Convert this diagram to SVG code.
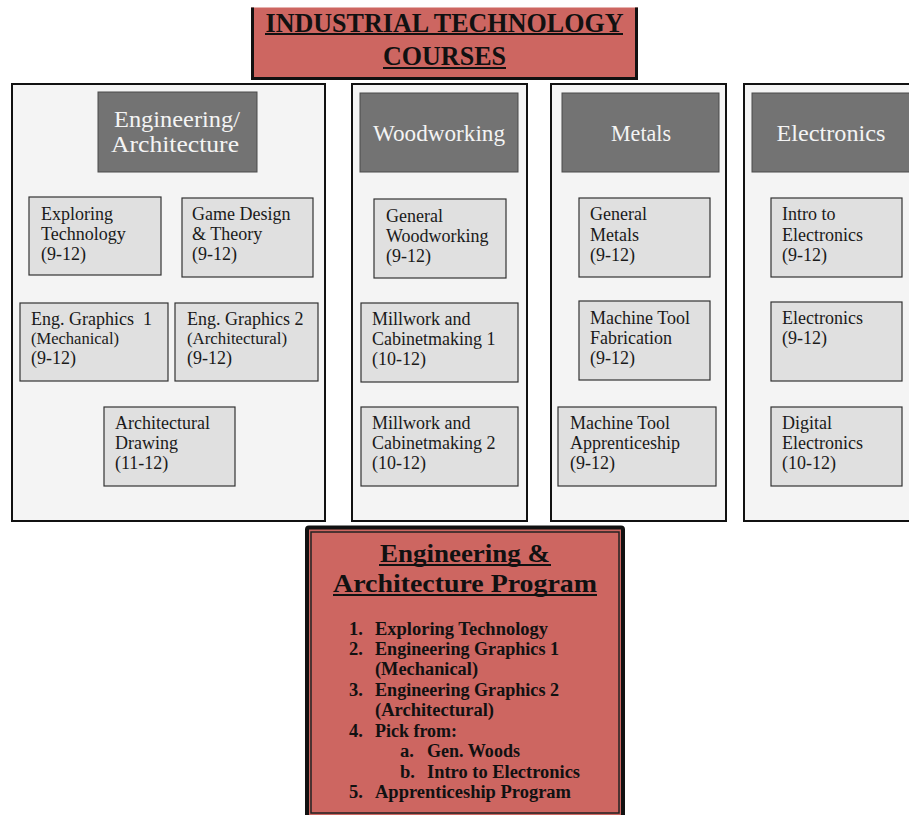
<svg xmlns="http://www.w3.org/2000/svg" width="909" height="815" viewBox="0 0 909 815">
<style>
.col{fill:#f4f4f4;stroke:#111;stroke-width:2}
.hdr{fill:#737373;stroke:#4a4a4a;stroke-width:1}
.crs{fill:#e0e0e0;stroke:#333;stroke-width:1.2}
.ht{font-family:"Liberation Serif",serif;font-size:23px;fill:#f4f4f4;text-anchor:middle}
.ct{font-family:"Liberation Serif",serif;font-size:18px;fill:#1a1a1a}
.cs{font-family:"Liberation Serif",serif;font-size:16px;fill:#1a1a1a}
.red{fill:#cd6661}
.tt{font-family:"Liberation Serif",serif;font-weight:bold;font-size:28px;fill:#111;text-anchor:middle}
.pt{font-family:"Liberation Serif",serif;font-weight:bold;font-size:25px;fill:#111;text-anchor:middle}
.li{font-family:"Liberation Serif",serif;font-weight:bold;font-size:18.5px;fill:#111}
.ul{stroke:#111;stroke-width:1.8}
</style>
<rect width="909" height="815" fill="#fff"/>

<g id="title">
  <rect class="red" x="251" y="7.5" width="387" height="72"/>
  <path d="M252.5 7.5 V78.5 H636.5 V7.5" fill="none" stroke="#111" stroke-width="3"/>
  <text class="tt" x="444.5" y="32" textLength="358" lengthAdjust="spacingAndGlyphs">INDUSTRIAL TECHNOLOGY</text>
  <line class="ul" x1="265" y1="34" x2="623" y2="34"/>
  <text class="tt" x="444.5" y="65" textLength="123" lengthAdjust="spacingAndGlyphs">COURSES</text>
  <line class="ul" x1="383" y1="68" x2="506" y2="68"/>
</g>

<g id="col-eng">
  <rect class="col" x="12" y="84" width="313" height="437"/>
  <g id="hdr-eng">
    <rect class="hdr" x="98" y="92" width="159" height="80"/>
    <text class="ht" x="177" y="127" textLength="126" lengthAdjust="spacingAndGlyphs">Engineering/</text>
    <text class="ht" x="175" y="152" textLength="128" lengthAdjust="spacingAndGlyphs">Architecture</text>
  </g>
  <g id="c-exploring">
    <rect class="crs" x="29" y="197" width="132" height="78"/>
    <text class="ct" x="41" y="220">Exploring</text>
    <text class="ct" x="41" y="240">Technology</text>
    <text class="ct" x="41" y="260">(9-12)</text>
  </g>
  <g id="c-game">
    <rect class="crs" x="182" y="198" width="131" height="79"/>
    <text class="ct" x="192" y="220">Game Design</text>
    <text class="ct" x="192" y="240">&amp; Theory</text>
    <text class="ct" x="192" y="260">(9-12)</text>
  </g>
  <g id="c-eg1">
    <rect class="crs" x="20" y="303" width="148" height="78"/>
    <text class="ct" x="31" y="325" style="white-space:pre">Eng. Graphics  1</text>
    <text class="cs" x="31" y="344" textLength="88" lengthAdjust="spacingAndGlyphs">(Mechanical)</text>
    <text class="ct" x="31" y="364">(9-12)</text>
  </g>
  <g id="c-eg2">
    <rect class="crs" x="175" y="303" width="143" height="78"/>
    <text class="ct" x="187" y="325">Eng. Graphics 2</text>
    <text class="cs" x="187" y="344" textLength="100" lengthAdjust="spacingAndGlyphs">(Architectural)</text>
    <text class="ct" x="187" y="364">(9-12)</text>
  </g>
  <g id="c-archdraw">
    <rect class="crs" x="104" y="407" width="131" height="79"/>
    <text class="ct" x="115" y="429">Architectural</text>
    <text class="ct" x="115" y="449">Drawing</text>
    <text class="ct" x="115" y="469">(11-12)</text>
  </g>
</g>

<g id="col-wood">
  <rect class="col" x="352" y="84" width="175" height="437"/>
  <g id="hdr-wood">
    <rect class="hdr" x="360" y="93" width="158" height="79"/>
    <text class="ht" x="439" y="141" textLength="132" lengthAdjust="spacingAndGlyphs">Woodworking</text>
  </g>
  <g id="c-genwood">
    <rect class="crs" x="374" y="199" width="132" height="79"/>
    <text class="ct" x="386" y="222">General</text>
    <text class="ct" x="386" y="242">Woodworking</text>
    <text class="ct" x="386" y="262">(9-12)</text>
  </g>
  <g id="c-mill1">
    <rect class="crs" x="361" y="303" width="157" height="79"/>
    <text class="ct" x="372" y="325">Millwork and</text>
    <text class="ct" x="372" y="345">Cabinetmaking 1</text>
    <text class="ct" x="372" y="365">(10-12)</text>
  </g>
  <g id="c-mill2">
    <rect class="crs" x="361" y="407" width="157" height="79"/>
    <text class="ct" x="372" y="429">Millwork and</text>
    <text class="ct" x="372" y="449">Cabinetmaking 2</text>
    <text class="ct" x="372" y="469">(10-12)</text>
  </g>
</g>

<g id="col-metals">
  <rect class="col" x="551" y="84" width="175" height="437"/>
  <g id="hdr-metals">
    <rect class="hdr" x="562" y="93" width="157" height="79"/>
    <text class="ht" x="641" y="141" textLength="60" lengthAdjust="spacingAndGlyphs">Metals</text>
  </g>
  <g id="c-genmetals">
    <rect class="crs" x="579" y="198" width="131" height="79"/>
    <text class="ct" x="590" y="220">General</text>
    <text class="ct" x="590" y="241">Metals</text>
    <text class="ct" x="590" y="261">(9-12)</text>
  </g>
  <g id="c-mtfab">
    <rect class="crs" x="579" y="301" width="131" height="79"/>
    <text class="ct" x="590" y="324">Machine Tool</text>
    <text class="ct" x="590" y="344">Fabrication</text>
    <text class="ct" x="590" y="364">(9-12)</text>
  </g>
  <g id="c-mtapp">
    <rect class="crs" x="558" y="407" width="158" height="79"/>
    <text class="ct" x="570" y="429">Machine Tool</text>
    <text class="ct" x="570" y="449">Apprenticeship</text>
    <text class="ct" x="570" y="469">(9-12)</text>
  </g>
</g>

<g id="col-elec">
  <rect class="col" x="744" y="84" width="200" height="437"/>
  <g id="hdr-elec">
    <rect class="hdr" x="752" y="93" width="190" height="79"/>
    <text class="ht" x="831" y="141" textLength="109" lengthAdjust="spacingAndGlyphs">Electronics</text>
  </g>
  <g id="c-introelec">
    <rect class="crs" x="771" y="198" width="131" height="79"/>
    <text class="ct" x="782" y="220">Intro to</text>
    <text class="ct" x="782" y="241">Electronics</text>
    <text class="ct" x="782" y="261">(9-12)</text>
  </g>
  <g id="c-elec">
    <rect class="crs" x="771" y="302" width="131" height="79"/>
    <text class="ct" x="782" y="324">Electronics</text>
    <text class="ct" x="782" y="344">(9-12)</text>
  </g>
  <g id="c-digelec">
    <rect class="crs" x="771" y="407" width="131" height="79"/>
    <text class="ct" x="782" y="429">Digital</text>
    <text class="ct" x="782" y="449">Electronics</text>
    <text class="ct" x="782" y="469">(10-12)</text>
  </g>
</g>

<g id="program">
  <rect class="red" x="307" y="527.5" width="316" height="300" rx="2" stroke="#111" stroke-width="4"/>
  <rect x="311" y="532" width="308" height="281" fill="none" stroke="#222" stroke-width="1.5"/>
  <text class="pt" x="465" y="562" textLength="170" lengthAdjust="spacingAndGlyphs">Engineering &amp;</text>
  <line class="ul" x1="379" y1="565" x2="551" y2="565"/>
  <text class="pt" x="465" y="592" textLength="264" lengthAdjust="spacingAndGlyphs">Architecture Program</text>
  <line class="ul" x1="333" y1="595" x2="597" y2="595"/>
  <text class="li" x="349" y="635">1.</text>
  <text class="li" x="375" y="635" textLength="173" lengthAdjust="spacingAndGlyphs">Exploring Technology</text>
  <text class="li" x="349" y="655">2.</text>
  <text class="li" x="375" y="655" textLength="184" lengthAdjust="spacingAndGlyphs">Engineering Graphics 1</text>
  <text class="li" x="375" y="675" textLength="103" lengthAdjust="spacingAndGlyphs">(Mechanical)</text>
  <text class="li" x="349" y="696">3.</text>
  <text class="li" x="375" y="696" textLength="184" lengthAdjust="spacingAndGlyphs">Engineering Graphics 2</text>
  <text class="li" x="375" y="716" textLength="119" lengthAdjust="spacingAndGlyphs">(Architectural)</text>
  <text class="li" x="349" y="737">4.</text>
  <text class="li" x="375" y="737" textLength="82" lengthAdjust="spacingAndGlyphs">Pick from:</text>
  <text class="li" x="400" y="757">a.</text>
  <text class="li" x="427" y="757" textLength="93" lengthAdjust="spacingAndGlyphs">Gen. Woods</text>
  <text class="li" x="400" y="778">b.</text>
  <text class="li" x="427" y="778" textLength="153" lengthAdjust="spacingAndGlyphs">Intro to Electronics</text>
  <text class="li" x="349" y="798">5.</text>
  <text class="li" x="375" y="798" textLength="196" lengthAdjust="spacingAndGlyphs">Apprenticeship Program</text>
</g>
</svg>
